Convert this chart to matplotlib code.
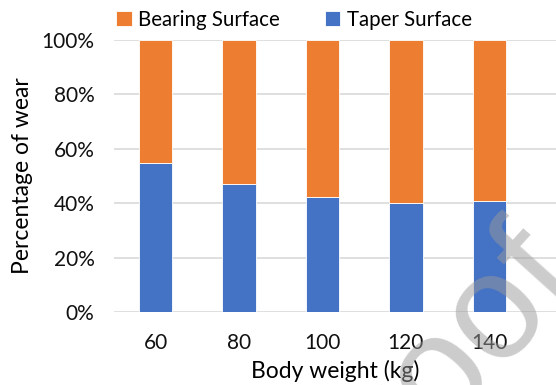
import matplotlib.pyplot as plt
import numpy as np

plt.rcParams['font.family'] = ['Lato', 'DejaVu Sans']

weights = ['60', '80', '100', '120', '140']
taper = [54.7, 46.9, 42.2, 40.0, 40.7]
bearing = [100 - t for t in taper]

fig = plt.figure(figsize=(5.56, 3.85), dpi=100)
ax = fig.add_axes([114 / 556, 73 / 385, 442 / 556, 272 / 385])

x = np.arange(len(weights))
ax.bar(x, taper, width=0.4, color='#4472C4', edgecolor='white', linewidth=0.6,
       label='Taper Surface', zorder=3)
ax.bar(x, bearing, width=0.4, bottom=taper, color='#ED7D31', edgecolor='white',
       linewidth=0.6, label='Bearing Surface', zorder=3)

ax.set_xlim(-0.5, 4.8)
ax.set_ylim(0, 100)
ax.set_yticks(range(0, 101, 20))
ax.set_yticklabels([f'{v}%' for v in range(0, 101, 20)])
ax.set_xticks(x)
ax.set_xticklabels(weights)
ax.tick_params(axis='both', length=0, labelsize=15, colors='#111111')
ax.tick_params(axis='x', pad=15)
ax.tick_params(axis='y', pad=14)
ax.grid(axis='y', color='#D9D9D9', linewidth=1.2, zorder=0)
for s in ax.spines.values():
    s.set_visible(False)

ax.set_xlabel('Body weight (kg)', fontsize=16.5, labelpad=5)
ax.set_ylabel('Percentage of wear', fontsize=16.5, labelpad=6)

handles, labels = ax.get_legend_handles_labels()
fig.legend(handles[::-1], labels[::-1], loc='center', bbox_to_anchor=(294 / 556, 1 - 20 / 385),
           ncol=2, frameon=False, fontsize=14.8, handlelength=0.75, handleheight=0.75,
           handletextpad=0.3, columnspacing=2.2)

# faint diagonal watermark
fig.text(580 / 556, 1 - 272 / 385, 'Pre-proof', fontsize=108, color='#9A9A9A', alpha=0.5,
         family='Liberation Sans', rotation=48, ha='right', va='baseline',
         rotation_mode='anchor', zorder=10)

fig.savefig('out.png', dpi=100)
